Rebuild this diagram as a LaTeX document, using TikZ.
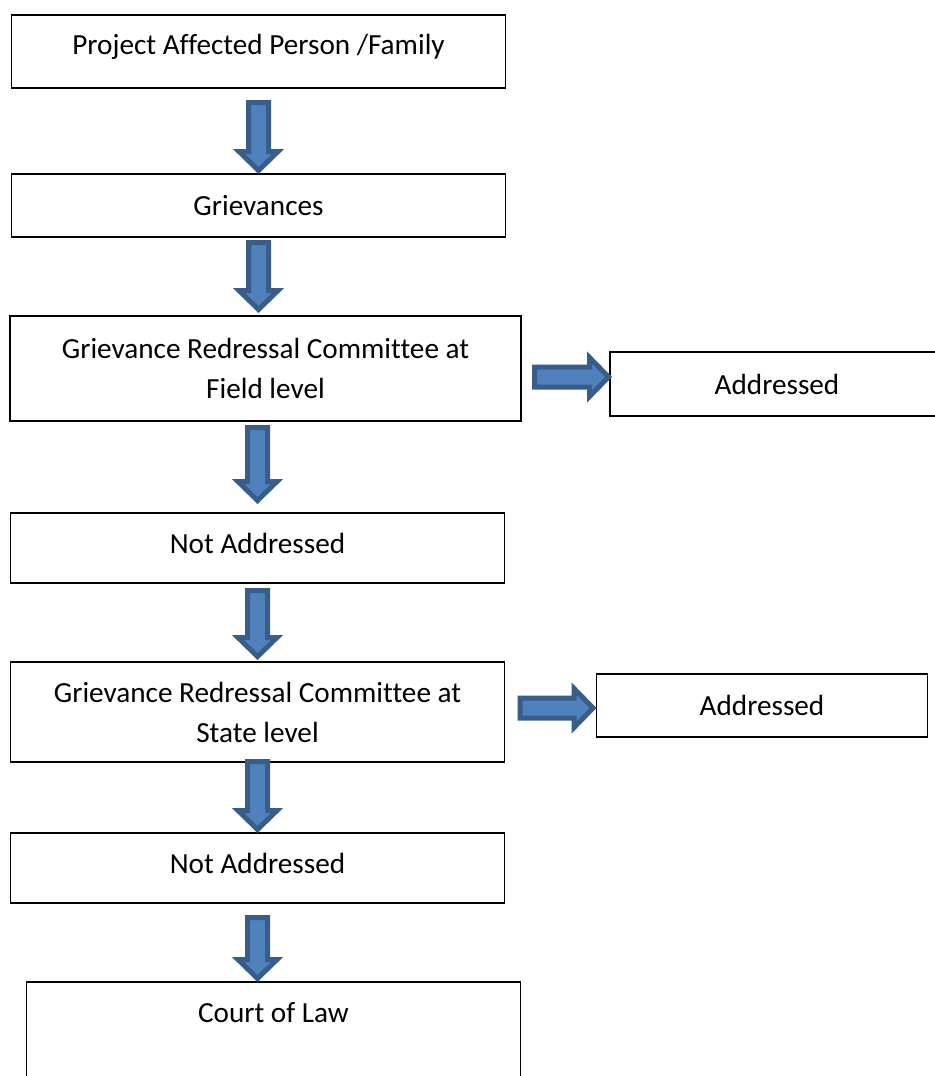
\documentclass[tikz,border=0pt]{standalone}
\usepackage{fontspec}
\setmainfont{Carlito}[Ligatures=NoCommon]
\usetikzlibrary{positioning, calc}
\definecolor{arrowfill}{HTML}{4F81BD}
\definecolor{arrowline}{HTML}{385D8A}
\tikzset{
  stage/.style={
    rectangle, outer sep=0pt,
    minimum width=247pt,
    text centered, align=center, draw=black, line width=0.8pt,
    font=\fontsize{14.6pt}{20pt}\selectfont
  },
  outcome/.style={
    rectangle, outer sep=0pt,
    minimum width=167pt, minimum height=32pt,
    text centered, align=center, draw=black, line width=0.8pt,
    font=\fontsize{14.6pt}{20pt}\selectfont
  },
  blockarrow/.style={draw=arrowline, fill=arrowfill, line width=2.5pt, line join=miter},
  downblock/.style={blockarrow, to path={
    let \p1=(\tikztostart), \p2=(\tikztotarget) in
      (\x1-5pt,\y1-1.25pt) -- (\x1+5pt,\y1-1.25pt) -- (\x1+5pt,\y2+11.25pt)
      -- (\x1+9.75pt,\y2+11.25pt) -- (\x1,\y2+1.75pt) -- (\x1-9.75pt,\y2+11.25pt)
      -- (\x1-5pt,\y2+11.25pt) -- cycle}},
  rightblock/.style={blockarrow, to path={
    let \p1=(\tikztostart), \p2=(\tikztotarget) in
      (\x1+1.25pt,\y1+5pt) -- (\x1+1.25pt,\y1-5pt) -- (\x2-11.25pt,\y1-5pt)
      -- (\x2-11.25pt,\y1-9.75pt) -- (\x2-1.75pt,\y1) -- (\x2-11.25pt,\y1+9.75pt)
      -- (\x2-11.25pt,\y1+5pt) -- cycle}},
}
\begin{document}
\begin{tikzpicture}[x=0.5pt, y=-0.5pt]
\useasboundingbox (0,0) rectangle (934,1076);

% --- Main column ---
\node[stage, minimum height=36.5pt, text depth=7pt] (pap) at (258.5,51.5)
  {Project Affected Person /Family};
\node[stage, minimum height=31.5pt, below=43pt of pap] (grv) {Grievances};
\node[stage, minimum width=255.5pt, minimum height=52.5pt, below=39.5pt of grv, xshift=3.5pt] (grcf)
  {Grievance Redressal Committee at\\Field level};
\node[stage, minimum height=35pt, text depth=5pt, below=46pt of grcf, xshift=-4pt] (na1)
  {Not Addressed};
\node[stage, minimum height=50pt, below=39.5pt of na1] (grcs)
  {Grievance Redressal Committee at\\State level};
\node[stage, minimum height=35pt, text depth=5pt, below=35.5pt of grcs] (na2)
  {Not Addressed};
\node[stage, minimum height=54pt, text depth=24pt, below=39.5pt of na2, xshift=8pt] (court)
  {Court of Law};

% --- Side outcomes ---
\node[outcome, right=44.5pt of grcf, yshift=-7.75pt] (addf) {Addressed};
\node[outcome, minimum width=165.5pt, minimum height=31.5pt, right=46pt of grcs, yshift=3.25pt] (adds)
  {Addressed};

% --- Downward flow ---
\draw[downblock] ([yshift=-6pt]pap.south) to (grv.north);
\draw[downblock] ([yshift=-1.5pt]grv.south) to ([yshift=1.5pt]grcf.north);
\draw[downblock] ($(grcf.south -| na1.north)+(0,4)$) to ([yshift=4.5pt]na1.north);
\draw[downblock] ([yshift=-2.5pt]na1.south) to ([yshift=1pt]grcs.north);
\draw[downblock] ([yshift=1.5pt]grcs.south) to (na2.north);
\draw[downblock] ([yshift=-6pt]na2.south) to (court.north);

% --- Addressed branches ---
\draw[rightblock] ([xshift=5.5pt, yshift=-4.25pt]grcf.east) to ([xshift=1pt, yshift=3.5pt]addf.west);
\draw[rightblock] ([xshift=6.5pt, yshift=2pt]grcs.east) to (adds.west);

\end{tikzpicture}
\end{document}
